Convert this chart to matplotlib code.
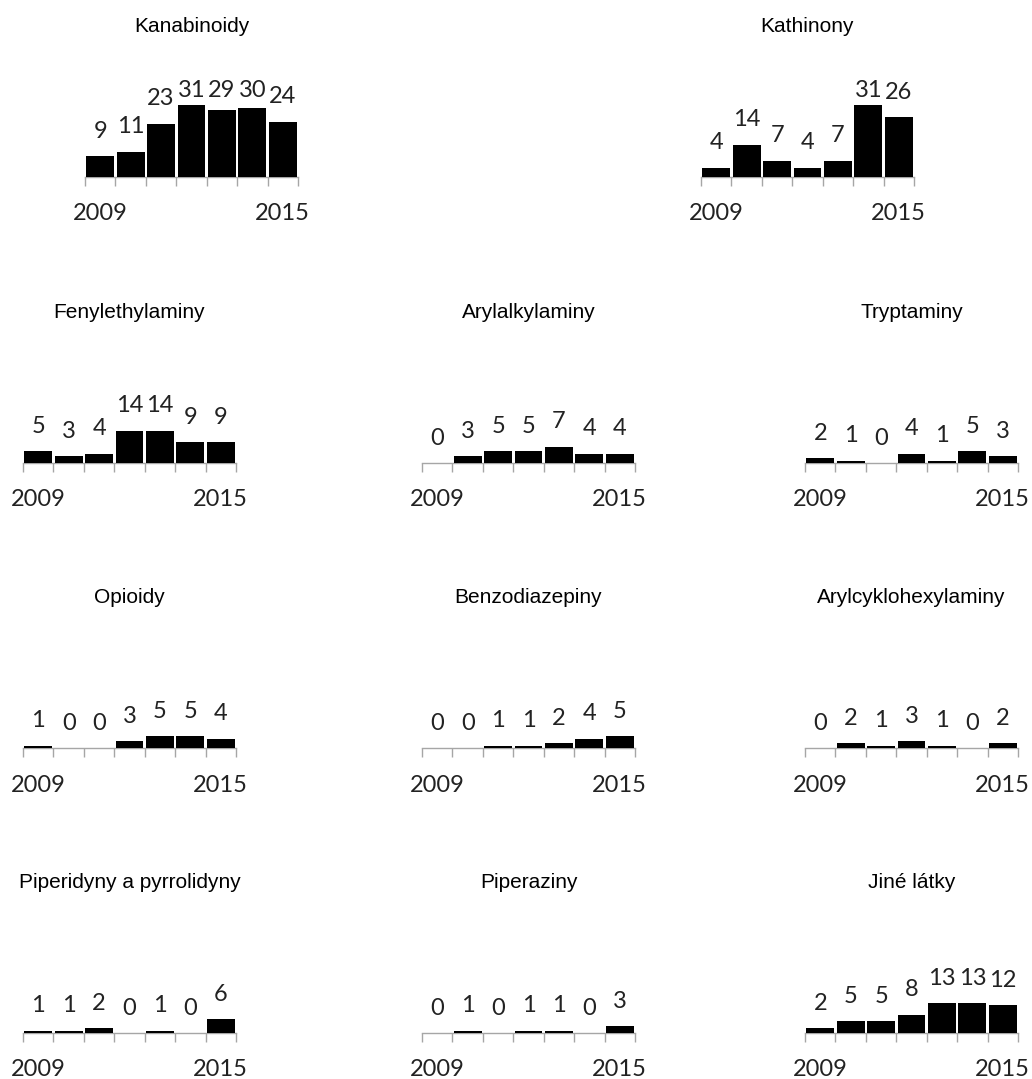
import matplotlib.pyplot as plt

# počet nových látek podle skupin, 2009-2015
years = ["2009", "2010", "2011", "2012", "2013", "2014", "2015"]
kanabinoidy = [9, 11, 23, 31, 29, 30, 24]
kathinony = [4, 14, 7, 4, 7, 31, 26]
fenylethylaminy = [5, 3, 4, 14, 14, 9, 9]
arylalkylaminy = [0, 3, 5, 5, 7, 4, 4]
tryptaminy = [2, 1, 0, 4, 1, 5, 3]
opioidy = [1, 0, 0, 3, 5, 5, 4]
benzodiazepiny = [0, 0, 1, 1, 2, 4, 5]
arylcyklohexylaminy = [0, 2, 1, 3, 1, 0, 2]
piperidyny = [1, 1, 2, 0, 1, 0, 6]
piperaziny = [0, 1, 0, 1, 1, 0, 3]
jine = [2, 5, 5, 8, 13, 13, 12]

W, H = 1032, 1079
PX = 2.31  # pixelů na jednu látku, stejné měřítko pro všechny grafy

# (název, data, levý okraj osy v px, výška osy v px)
panels = [
    ("Kanabinoidy", kanabinoidy, 85, 177),
    ("Kathinony", kathinony, 701, 177),
    ("Fenylethylaminy", fenylethylaminy, 23, 463),
    ("Arylalkylaminy", arylalkylaminy, 422, 463),
    ("Tryptaminy", tryptaminy, 805, 463),
    ("Opioidy", opioidy, 23, 748),
    ("Benzodiazepiny", benzodiazepiny, 422, 748),
    ("Arylcyklohexylaminy", arylcyklohexylaminy, 805, 748),
    ("Piperidyny a pyrrolidyny", piperidyny, 23, 1033),
    ("Piperaziny", piperaziny, 422, 1033),
    ("Jiné látky", jine, 805, 1033),
]

fig = plt.figure(figsize=(W / 100, H / 100), dpi=100)
fig.patch.set_facecolor("white")

ax_w = 213
ax_h = 100
for title, vals, left, base in panels:
    ax = fig.add_axes([left / W, (H - base) / H, ax_w / W, ax_h / H])
    x = list(range(len(vals)))
    ax.bar(x, vals, width=0.92, color="black", zorder=3)
    ax.set_xlim(-0.5, len(vals) - 0.5)
    ax.set_ylim(0, ax_h / PX)

    for s in ["top", "left", "right"]:
        ax.spines[s].set_visible(False)
    ax.spines["bottom"].set_color("#a6a6a6")
    ax.spines["bottom"].set_linewidth(1)
    ax.set_yticks([])
    ax.set_xticks([i - 0.5 for i in range(len(vals) + 1)])
    ax.set_xticklabels([])
    ax.tick_params(axis="x", length=6.7, width=1, color="#a6a6a6", direction="out")

    # popisky hodnot nad sloupci
    for i, v in enumerate(vals):
        y = min(v * PX + 18.4, 79.7) / PX
        ax.text(i, y, str(v), ha="center", va="baseline", fontsize=17,
                family="Lato", color="#222222")

    # první a poslední rok
    ax.text(0, -43.5 / PX, years[0], ha="center", va="baseline", fontsize=17,
            family="Lato", color="#222222")
    ax.text(len(vals) - 1, -43.5 / PX, years[-1], ha="center", va="baseline",
            fontsize=17, family="Lato", color="#222222")

    ax.text(3, 145.3 / PX, title, ha="center", va="baseline", fontsize=15,
            family="Liberation Sans", color="black")

fig.savefig("out.png", dpi=100, facecolor="white")
